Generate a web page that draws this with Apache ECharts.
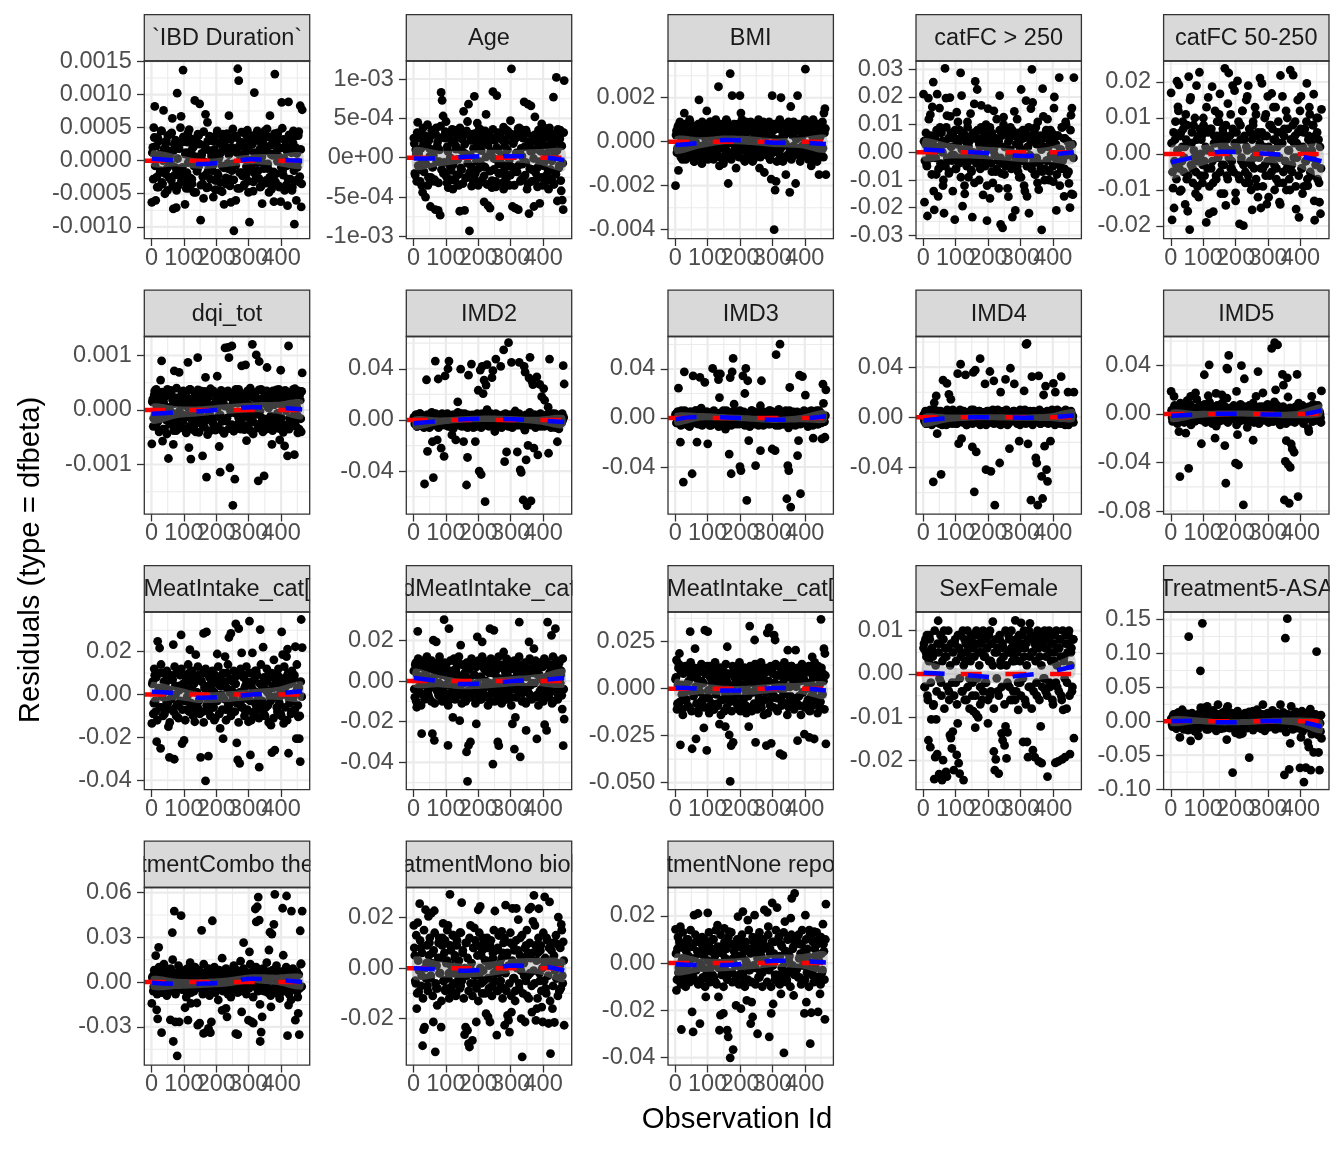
<!DOCTYPE html>
<html><head><meta charset="utf-8">
<script src="https://cdn.jsdelivr.net/npm/echarts@6/dist/echarts.min.js"></script>
<style>html,body{margin:0;padding:0;background:#fff}#c{width:1344px;height:1152px}</style>
</head><body><div id="c"></div>
<script>
// ---------- data ----------
const obsFirst = 1, obsLast = 465;
const fitX = [1, 78, 155, 233, 310, 388, 465];
const xTicks = [0, 100, 200, 300, 400];
const xTickLabels = ['0', '100', '200', '300', '400'];
const panelLabels = ['`IBD Duration`', 'Age', 'BMI', 'catFC > 250', 'catFC 50-250',
  'dqi_tot', 'IMD2', 'IMD3', 'IMD4', 'IMD5',
  'MeatIntake_cat[', 'dMeatIntake_cat', 'MeatIntake_cat[', 'SexFemale', 'Treatment5-ASA',
  'tmentCombo the', 'atmentMono biol', 'tmentNone repo'];

// residual values per panel (in the unit given in panelUnits); "Vals" = spread/outlying points, "Core" = dense band
const ibdVals = [
 -63,20,50,82,-60,-25,35,-40,10,-15,45,-35,76,5,-20,30,-45,15,-5,40,-30,64,-73,25,-10,-71,102,-38,18,-22,67,
 28,137,-32,-66,12,-18,42,-42,3,33,-28,20,-8,91,-48,25,-12,38,86,-90,8,-35,-57,22,70,-20,58,-40,15,-3,35,
 -15,-55,30,-30,10,45,-22,5,-45,25,-8,40,-66,18,-35,32,-12,68,-28,-63,20,-5,-106,38,-60,12,139,121,-42,28,-18,
 22,-38,8,40,-20,15,-48,-93,35,-10,25,-32,103,5,-25,45,-15,30,-40,12,-65,38,-5,20,-30,48,-12,-48,68,10,-35,
 30,-62,131,-20,15,42,-38,5,-62,88,-15,32,-45,22,-8,-68,89,35,-28,12,-40,45,-96,20,-60,-10,38,-32,83,-70,77];
const ibdCore = [
 12,-28,35,-8,22,-40,5,30,-18,45,-33,0,18,-50,26,-12,38,-25,8,-5,42,-38,15,-22,31,-45,3,24,-15,50,-30,
 -10,36,-20,10,-42,28,-3,47,-26,14,-35,20,-48,6,33,-16,40,-8,25,-37,11,-24,44,-2,19,-41,29,-13,37,-28,7,
 30,-6,17,-44,39,-19,2,27,-33,13,-47,34,-11,22,-26,41,-4,9,-38,32,-15,48,-29,16,-7,35,-42,21,-18,4,43,
 -23,10,-36,28,-9,46,-31,1,24,-14,38,-46,12,-20,33,-3,40,-27,18,-39,6,29,-12,45,-34,15,-5,36,-25,23,-43,
 8,-17,41,-32,26,-1,34,-40,19,-10,49,-22,3,31,-37,14,-28,39,-6,21,-45,27,-15,37,-30,11,-2,44,-24,17,-35];
const ageVals = [
 25,-20,10,-30,45,5,-15,30,-35,-44,18,-8,-50,22,42,-25,12,-62,28,-12,3,-30,-66,38,15,-67,-5,-73,83,73,53,
 -18,25,46,-32,8,30,-10,-28,20,-40,35,-3,15,-22,28,-35,-68,10,-15,32,59,-67,5,-25,46,68,-93,22,-12,30,-30,
 78,-20,12,44,-35,25,-5,35,-28,18,-56,-12,55,20,-61,30,-64,8,-38,84,-15,25,-30,79,10,-20,-75,32,-8,22,-40,
 15,-25,35,-10,28,-35,47,113,-62,20,-18,-64,30,5,-66,38,-30,12,-8,25,71,-22,35,-40,68,-71,18,66,-15,10,-62,
 52,-28,20,-12,30,-58,8,43,-35,25,-5,33,-22,15,-40,38,-15,22,-30,77,5,-20,102,-55,28,-10,35,-42,-54,-66,98];
const ageCore = [
 18,-22,5,32,-10,25,-30,12,-3,38,-18,28,-8,15,-35,22,2,-25,35,-12,8,-28,30,-5,20,-32,10,40,-15,26,-20,
 -6,33,-24,14,-38,27,0,-16,36,-9,21,-29,11,30,-2,-21,38,-13,24,-33,6,17,-26,34,-7,29,-19,3,-36,23,12,
 -27,31,-4,19,-14,37,-31,9,25,-11,-23,34,1,-34,16,28,-17,7,-29,36,-1,22,-37,13,32,-8,-20,26,4,-32,39,
 -15,21,-26,10,33,-3,-22,30,-12,18,-35,24,6,-18,37,-9,27,-28,2,35,-24,14,-6,31,-33,20,-14,8,-30,25,-1,
 29,-19,11,-37,35,-5,23,-25,16,-10,38,-31,5,26,-16,33,-27,12,-4,30,-34,19,-21,9,36,-13,24,-29,15,-7,32];
const bmiVals = [
 -20,5,-3,-13,8,-6,2,-8,6,13,-4,7,-2,4,-7,9,-5,1,6,-9,3,-1,7,-6,19,4,-3,-10,8,-5,2,
 6,14,-7,3,-4,9,-2,5,-8,1,7,-5,4,25,-11,8,-3,2,-10,6,-6,10,-1,-19,5,31,-7,21,3,-4,7,
 -12,4,-6,8,21,13,-3,6,-8,2,9,-5,1,-7,5,-2,8,-9,4,-4,7,0,-6,10,-12,3,-5,6,-1,-14,8,
 -5,7,-2,4,-8,-17,21,5,-40,-22,-18,6,-3,9,-6,20,2,-9,7,-1,-15,4,-7,8,-23,16,-4,3,9,-6,-19,
 5,21,-3,8,-7,2,6,-5,9,33,-2,4,-8,7,-4,-11,3,10,-6,1,8,-9,5,-15,2,-5,7,-3,13,15,-15];
const bmiCore = [
 3,-5,7,-2,9,-7,1,5,-4,8,-8,2,6,-1,10,-6,4,-3,7,-9,0,5,-5,8,-2,3,-7,9,-4,6,-1,
 -3,6,-8,2,9,-5,4,-1,7,-6,10,-3,1,8,-7,5,-2,3,-9,6,0,-4,9,-6,2,7,-8,4,-1,8,-5,
 5,-2,8,-7,3,-4,10,-1,6,-9,2,7,-3,5,-6,9,-2,1,-8,4,8,-5,3,-1,7,-7,6,-3,9,-4,2,
 -6,4,-1,9,-8,3,6,-5,8,-2,1,-9,7,-4,10,-3,5,-7,2,8,-1,4,-6,9,-3,6,-8,3,-2,7,-5,
 1,8,-4,5,-9,7,-2,3,-6,10,-1,4,-7,6,-3,9,-5,2,-8,7,-1,5,-4,8,-6,3,-2,9,-7,4,6];
const fcHighVals = [
 21,-18,3,-4,-23,19.6,5,13.6,-2,16.4,25.4,-20.8,6,-8,21,-15.9,2,9,-5,4,-12,-22,30.3,19.6,13.3,-3,-7.6,19.8,7,-1,-14,
 5,-24.3,-6,14.5,3,-2,8,28.7,20.5,-19.4,1,-12,6,-4,11,-9,4,-1,-6.4,-23.4,7,17.5,25.6,-3,22.7,5,-10,2,9,-5,-15.4,
 6,-2,10,-24.7,15.8,3,-16.6,-4,7,-11,1,5,-7,12,-3,4,20.5,-26,-7.6,-27.3,12.7,2,-5,8,-13,4,-1,9,-6,-23.4,6,
 14.8,-21,3,-5,7,-9,1,22.7,-3,5,-12,8,18.7,-15.9,2,-22,6,15.8,30,-4,4,-8,9,-2,11,-13.5,3,-6,-28,23,5,
 -10,6,-3,12,2,-7,8,-1,4,-10.6,20,3,-21,6,-4,27,1,-6,9,-2,-15.9,5,10,-8,4,-11.2,-20,13.4,16,-15.3,27];
const fcHighCore = [
 4,-3,7,-5,2,12,-1,6,-8,3,-14,5,-2,8,1,-6,16,-4,7,0,-10,3,-5,9,-2,5,-7,13,2,-3,6,
 -1,8,-6,3,11,-4,5,-9,1,7,-2,-15,4,-5,9,2,-3,14,-7,6,0,-11,5,-4,8,-1,3,-6,17,-2,4,
 7,-5,2,-12,6,-3,9,1,-7,4,15,-1,5,-6,3,-13,8,-2,6,-4,10,-8,2,7,-3,-16,5,1,-5,8,-1,
 -4,6,-2,12,-7,3,5,-9,1,8,-3,-14,6,-5,2,9,-1,4,-6,18,-2,7,-8,3,-11,5,-4,6,1,-7,13,
 2,-6,8,-3,5,-10,4,-1,7,-5,16,-2,3,-8,6,-4,-12,1,9,-3,5,-6,11,-1,4,-7,2,8,-15,3,-2];
const fcMidVals = [
 17,-18.3,-9.5,-15,4,-3,20.2,13.1,19.2,-10.4,6,-2,9,-5,2,11,-7,-15.9,21.5,-21,15.7,3,-4,8,-1,-11,19,-9,5,22.7,-6,
 4,-8,10,-2,6,-19,1,15.7,-16.6,7,-4,18.7,-8,3,12,-6,5,-1,9,16.7,-11,2,7,-3,23.8,-14.3,4,-7,22.5,1,11,
 -4,19,6,17.6,-10.8,2,20.3,-6,-19.4,8,-2,12,-19.9,4,-5,15,1,19,-8,6,-3,-15.5,9,-1,13,-7,5,-12,2,21.1,-4,
 19.6,-9,5,-3,11,-13.9,16,2,-6,8,16.8,-1,4,-10,13,-4,6,-8,-13.4,21.8,3,16,-5,7,-2,-10,10,1,-7,23.3,4,
 -5,21.9,3,9,-15.3,-1,6,-17.6,12,16,-4,2,-9,7,-2,19.6,-8.8,5,11,-6,1,8,16.6,-18.4,-3,10,-7,4,-13.4,-16.6,12.4];
const fcMidCore = [
 3,-5,6,-2,9,-7,1,12,-4,5,-10,2,7,-1,-14,4,8,-6,3,15,-3,6,-8,1,10,-5,4,-2,-12,7,0,
 5,-3,8,-6,2,13,-4,6,-9,1,7,-2,-16,5,3,-7,9,-1,11,-5,4,-3,6,-11,2,8,-6,14,-1,5,-4,
 -2,7,-5,3,-13,6,1,9,-7,4,-1,12,-3,5,-8,2,16,-6,7,-2,-10,4,8,-4,1,11,-9,6,-1,3,-15,
 6,-4,2,10,-6,5,-2,-12,8,1,-5,7,13,-3,4,-7,2,9,-1,-14,6,3,-8,5,-2,12,-4,7,1,-10,4,
 -3,8,-1,5,-9,3,15,-6,2,7,-4,-11,6,1,-2,9,-7,4,13,-5,3,-1,8,-13,5,-3,6,10,-8,2,-4];
const dqiVals = [
 -62,20,-15,35,-30,8,-22,28,-5,55,90,-57,15,-35,25,-10,38,-89,5,-25,30,-18,-63,72,12,-38,22,-8,69,-28,18,
 32,-20,10,-35,25,-12,87.5,-69,38,-90,-5,20,-30,15,-40,28,96,-15,5,35,-25,-84,12,-32,60,-123,22,-10,30,-38,8,
 -22,35,5,-30,18,62,-12,-67,-114,28,-38,10,32,114,-20,25,115,96,-106,-5,117.5,-175,20,-127,38,-28,12,-15,30,-35,81,
 15,-30,25,83,-56,35,-10,28,-38,8,120.6,-22,32,-5,101,20,-130,89,-25,38,-15,12,-121,30,-35,78,5,-28,22,-12,-63,
 35,-18,10,-32,28,-8,38,-55,73,-25,15,-38,-66,22,5,-84,117.5,-15,30,-30,12,38,-82,-20,25,-10,35,-35,18,-40,68];
const dqiCore = [
 15,-30,28,-8,38,-22,5,-40,20,-12,33,-35,10,25,-18,-44,30,2,-26,36,-5,18,-38,12,-15,40,-28,22,-2,-33,8,
 -20,35,-10,27,-42,14,4,-30,38,-16,21,-36,9,31,-24,-3,37,-41,17,-11,26,-29,6,34,-19,13,-45,24,-7,39,-14,
 32,-25,11,-37,19,3,-32,29,-9,36,-21,16,-43,7,26,-15,35,-34,1,23,-27,12,-39,30,-6,20,-31,38,-13,14,-23,
 -4,28,-36,18,-12,33,-28,9,40,-19,24,-44,6,30,-8,16,-33,37,-2,-25,21,-40,13,27,-17,35,-30,4,19,-11,31,
 -38,10,25,-22,37,-6,15,-34,29,-14,8,-41,22,36,-1,-27,17,-35,11,32,-20,26,-9,39,-29,5,-42,18,28,-16,34];
const imd2Vals = [
 2,-3,4,-5,1,-2,5,-4,3,-1,2,-50,-3,31.4,-24.5,4,-6,1,-2,-17,-45,3,46,-4,-15.6,32,2,-3,-22,5,-1,
 -28.4,34.4,-2,3,40,46,-5,1,-11.7,4,-3,2,-15.6,-1,14.1,3,-4,39.7,5,-2,-16.9,1,-5,-50.8,-29.3,35,3,-2,43.7,4,-6,
 2,-16.9,-3,5,23.2,-40,39,-42.6,41.9,20.6,31.2,-63.8,27.3,43.2,-4,3,-2,5,33,38.5,-5,1,47.6,-3,4,-1,2,41.9,-4,3,54.7,
 -32.6,3,-25,-2,60.4,4,-5,45,1,-3,5,-1,2,-25,-4,45,-39,-41,3,-62.5,41.9,37.3,-31.2,-66.9,-19.8,32.9,48.9,-63.2,30.2,27.6,-22,
 4,-3,33.7,-27.3,2,27.8,-5,18.2,1,24.5,15.4,-2,4,-4,-26,47.6,3,-1,5,-3,2,-6,4,-17,1,-4,3,-2,5,42.4,28.1];
const imd2Core = [
 1,-3,4,-5,2,-1,5,-4,0,3,-6,2,-2,4,-3,1,-5,3,6,-4,0,-2,5,-1,2,-6,3,-3,4,-1,1,
 -4,2,-2,5,-5,0,3,-3,1,-7,4,-1,2,-4,6,-2,0,3,-5,1,-3,5,-1,2,-6,4,-2,0,3,-4,1,
 3,-1,-5,2,4,-3,0,-6,5,-2,1,-4,3,8,-1,-5,2,0,4,-3,1,-9,5,-2,3,-4,0,2,-6,4,-1,
 -2,5,-3,1,-5,3,0,4,-6,2,-1,7,-4,1,-3,5,-2,0,3,-5,2,-8,4,-1,1,-3,6,-4,2,0,-2,
 4,-6,1,-2,3,-4,5,0,-1,2,-5,3,-3,1,10,-2,4,-6,0,2,-4,5,-1,3,-3,-7,1,4,-2,0,2];
const imd3Vals = [
 3,-4,5,24.3,-2,-19.7,6,-5,-52.3,37.7,1,-3,4,-6,2,5,-1,-45.5,34.4,3,-4,6,-19.7,-2,4,33.1,-5,1,3,-3,29.1,
 -4,5,-21.1,2,-6,3,-1,40.4,5,-3,2,-5,36,31.4,16.7,35.9,4,-2,6,-4,1,3,-6,2,-29.4,33,-45.5,37.7,48.6,11.3,-3,
 5,-2,3,-5,-39.6,-42.9,4,34.4,-1,20,40.4,-67.2,30.4,-18.4,2,-4,6,-3,1,5,-38.8,-2,4,-6,3,-26.7,30.4,-1,5,-4,2,
 -3,4,-5,2,6,-2,-25.3,3,-4,-26.7,51.7,1,5,-6,60.2,3,-1,4,-5,2,6,-65.9,-38.8,-42.9,24.9,-72.7,3,-3,5,-2,4,
 -5,-30.7,-18.4,34.9,-61.8,2,33.8,-4,5,18.7,-1,3,-6,4,-3,6,-2,-16.5,5,-4,1,3,-5,6,-2,4,-17,27.6,-3,-15.7,23];
const imd3Core = [
 2,-4,5,-1,3,-6,0,4,-3,6,-5,1,-2,3,-7,5,-1,2,-4,0,6,-3,1,-5,4,-2,8,-6,2,-1,3,
 -3,5,-2,0,4,-6,1,-4,6,-1,2,-5,3,-7,4,0,-2,5,-3,1,-9,6,-1,3,-4,2,-6,5,0,-2,4,
 -5,1,3,-3,6,-1,-4,2,5,-6,0,3,-2,4,-7,1,6,-3,2,-5,4,-1,0,3,-4,10,-2,5,-6,1,-3,
 4,-2,0,6,-5,2,-3,5,-1,1,-6,3,-4,7,-2,0,4,-5,2,-1,5,-3,1,-8,6,-2,3,-4,0,2,-6,
 1,5,-3,2,-5,4,-1,0,6,-4,3,-2,-7,5,1,-3,4,-6,2,0,-1,6,-5,3,-2,4,-4,1,12,-3,2];
const imd4Vals = [
 2,-3,5,-5,1,4,-2,6,-4,3,-51.4,11.6,-1,17,-13,5,-3,2,-45.4,-6,29.6,4,-2,3,27,-5,18.3,1,14.3,-4,6,
 -2,4,-5,3,34.8,-21,1,42.3,-17,5,-3,2,33.8,-6,4,-1,3,-4,6,-23.6,35.9,-59.4,37.6,-27.6,2,-3,5,46.7,-2,4,-5,
 3,26.6,-41.7,2,-4,5,36.5,-43,1,-3,29.1,-70,4,-2,6,-5,-36.4,20.1,3,-1,5,-4,30.2,2,-6,4,-24.9,39.1,-3,1,5,
 26.6,-2,4,-5,3,-19,6,-3,1,4,21,-4,58.2,59,-21.2,2,5,-66,32.4,-3,4,-1,-32.4,-36.4,-70,33.1,3,-5,-47,-64.7,17.8,
 -23,24.9,-41.7,-51,4,-2,-19,5,-3,27.1,1,20.1,-4,6,-2,3,-5,32.4,2,-3,5,-6,4,-1,20.1,-4,3,5,-2,1,20.1];
const imd4Core = [
 -1,3,-5,2,5,-3,0,4,-6,1,-2,6,-4,3,-1,2,-5,5,0,-3,4,-2,1,-6,6,-4,2,-1,3,-5,0,
 4,-2,1,-5,3,-3,6,-1,0,-4,5,-2,2,-6,3,1,-3,4,-1,-5,6,0,-2,3,-4,2,5,-6,1,-1,4,
 -3,2,-6,5,0,-2,3,-4,1,6,-5,2,-1,4,-3,0,5,-6,2,-2,3,-4,1,6,-1,-5,4,0,-3,2,-2,
 5,-1,3,-4,0,2,-6,4,-2,1,-3,6,-5,3,0,-1,4,-4,2,-6,5,-2,1,3,-3,0,6,-5,2,-1,4,
 -4,1,-2,5,-5,3,0,-3,6,-1,2,-6,4,-2,1,5,-4,0,3,-5,2,-1,6,-3,4,-6,1,-2,3,0,-4];
const imd5Vals = [
 18.6,-3,4,14.5,-5,2,-1,6,-14.5,-51.5,3,-4,5,-2,1,-15.8,4,-6,-44.7,3,14.5,-3,5,-1,2,17.3,-5,4,-2,6,-4,
 -24.5,3,-2,32.3,5,-4,1,15,40.5,-5,3,-1,6,-3,-19.9,17,2,-5,4,-2,5,15.8,-4,1,-26,-57,37.8,37,48.2,-3,4,
 -2,5,-4,3,-40.5,18.6,-17,-42,6,-3,39.8,2,-74.9,29,-5,4,-1,3,-6,5,-2,1,-21.6,4,-3,14.5,2,34.9,-4,5,-1,
 3,17.3,-5,2,6,-3,4,-1,5,-4,54,2,-6,58.7,19.9,3,56.9,-2,5,-4,1,32.6,23.7,-70.8,-39,-22,29.8,-42,-73.5,-44,-24.7,
 -28.8,4,-31.5,2,-3,32.6,-68,5,-2,3,-5,6,-1,4,-4,2,5,-14.5,-3,1,14.5,-6,4,-2,3,-5,6,-1,2,-3,19];
const imd5Core = [
 3,-6,1,7,-4,2,-8,5,-1,9,-3,0,6,-7,4,-2,11,-5,1,8,-9,3,-1,5,-6,2,12,-4,0,7,-3,
 -5,4,-2,8,-7,1,6,-3,10,-1,3,-8,5,-4,2,-10,7,0,-6,4,-2,9,-5,1,6,-3,13,-7,2,-1,5,
 1,-4,7,-2,3,-9,5,0,-6,8,-3,2,-1,6,-5,4,-11,1,7,-4,3,-2,9,-7,0,5,-3,2,-8,6,-1,
 -2,6,-5,1,4,-3,8,-7,2,-1,5,-6,3,10,-4,0,7,-2,1,-9,4,-5,6,-1,3,-8,2,14,-3,5,-6,
 4,-1,2,-7,6,-3,0,9,-5,3,-2,7,-8,1,5,-4,2,-12,6,-1,4,-6,8,-2,1,-5,3,7,-3,0,-7];
const meatAVals = [
 -13.5,6,-4,9,-8,-22,24.8,3,21.7,-25.1,-6,10,1,-9,5,-3,8,-15,-29.3,-2,7,-7,23.3,-30.2,4,-10,11,-5,2,9,27.8,
 -22.9,5,-21.4,-3,8,-7,2,10,20.9,-5,4,-9,7,-12.7,18.6,1,-6,9,-2,-29.3,6,-8,28.5,3,-40.3,29.2,-4,-28.7,8,-10,5,
 2,-6,-11.9,9,-3,18.9,5,-9,-15.8,7,-1,-20.6,4,17.7,-7,10,-4,26.6,1,28.5,-8,6,-2,8,33,-22.6,-30.5,30.7,-32.1,-5,19.4,
 -6,9,3,-8,6,-2,-12.7,34.2,-28.2,4,19.4,-9,7,-4,11,1,-7,-33.9,30.3,5,-3,22.1,8,-10,2,6,-5,10,-1,-14.3,-27.1,
 4,16.2,-25.9,7,-6,9,-2,5,-9,29.2,18.6,-13.5,3,8,17.7,21.2,-27.4,-4,10,-8,6,-1,9,22.3,-20.6,3,-10.4,-20.6,-31.3,35,21.9];
const meatACore = [
 5,-9,12,-3,8,-12,1,10,-6,14,-1,-10,6,3,-7,11,-4,2,-13,9,-2,7,-8,13,0,-5,10,-11,4,-3,12,
 -7,3,9,-12,6,-1,14,-8,2,-4,11,-10,5,8,-6,1,13,-3,-9,7,-1,10,-13,4,12,-5,2,-8,9,-2,6,
 11,-6,1,-11,8,-3,13,-9,4,0,-7,10,-2,6,-12,3,14,-5,7,-10,2,-1,11,-8,5,-4,9,-13,1,12,-6,
 -2,8,-10,4,13,-7,0,10,-3,-12,6,2,-8,11,-5,9,-1,-11,5,14,-4,3,-9,7,-6,12,1,-13,8,-3,10,
 3,-11,9,-1,6,-8,12,-4,2,-10,7,0,13,-6,4,-12,10,-2,5,-9,11,-3,8,-7,1,14,-5,3,-10,6,-1];
const meatBVals = [
 5,-8,9,-12.9,24.5,-3,7,-6,-25.9,2,10,-9,4,-2,8,-7,1,6,-10,-25.9,20.1,-29.2,3,19.3,-5,9,-1,7,-8,4,-4,
 30.2,-6,8,2,-31.7,25.8,-9,5,-3,-17.9,10,-1,6,-7,3,9,-19.5,17.7,-5,1,8,-8,4,-34.9,-49.4,-31.7,6,-30,-2,10,-6,
 3,-7,-21.1,21.8,-4,8,-9,2,19.3,-6,10,-2,5,-8,7,-1,25.8,-10,4,-40.9,25,6,-5,9,-30,-31.8,1,-7,8,-3,14.3,
 -5,7,-9,3,10,-4,6,-8,-21.1,1,-33.5,-17.9,9,-2,5,29,-37.3,8,-6,2,-10,7,-24.3,4,-3,19.3,-7,10,-1,5,16,
 -8,6,-28.5,3,9,-5,1,-9,7,-2,-21.5,10,-24.3,29,-6,4,-3,22.5,8,-10,2,25.8,-4,6,-7,9,-1,5,-13.8,-31.8,-18.7];
const meatBCore = [
 -4,8,-10,3,11,-6,1,-12,7,-2,9,-8,4,12,-5,0,-9,6,10,-3,2,-11,8,-1,5,-7,12,-4,3,-10,7,
 9,-2,-8,5,-12,1,10,-6,3,-4,11,-9,6,0,-7,12,-3,2,-11,8,-1,4,-10,9,-5,7,1,-8,11,-2,-6,
 3,-11,7,-1,10,-5,2,-9,12,-4,6,-7,0,9,-12,4,-3,11,-6,8,-1,-10,5,2,-8,12,-3,7,-11,1,6,
 -9,4,11,-2,-7,8,0,-12,6,-4,10,1,-8,3,-5,12,-1,7,-10,5,-3,9,-11,2,6,-6,11,-2,-9,4,8,
 -1,10,-7,5,-12,3,8,-4,1,-10,11,-6,2,9,-3,-8,7,0,-11,12,-5,4,-2,10,-9,6,-1,3,-7,11,-4];
const meatCVals = [
 5,15.2,-8,11,18.7,-29.9,2,-11,8,-4,12,-6,3,9,-10,30.3,6,-32,-2,10,21.3,-26.7,7,-12,1,11,-7,4,-9,-20.9,31.2,
 8,-32.9,30.3,-5,12,-9,3,6,-11,10,-2,7,-8,4,-18.9,11,-6,1,9,-12,-20.2,5,22.3,-4,-24.6,-49.4,-30.3,8,-28.6,2,-7,
 10,-3,6,-11,12,-7,2,9,-5,11,-9,4,-1,-20.2,33.3,7,-12,3,10,25.9,-28.6,5,-8,12,-2,8,-10,1,6,-6,11,
 -30.3,29.7,4,32.4,-9,-29.1,10,-3,28.5,25.9,7,-11,2,12,-34.6,-6,8,-35.5,5,-8,11,1,20.5,-10,6,-4,12,-7,3,9,20.5,
 -5,-27.7,10,-9,4,12,-2,7,-24.2,11,-8,3,-11,-25.9,9,-4,16.9,6,-26.8,10,-6,1,12,-9,5,36.9,-3,8,21.3,18.7,-29.4];
const meatCCore = [
 6,-11,2,13,-7,9,-3,-14,10,0,-6,12,-9,4,-1,14,-12,7,-4,11,1,-8,5,-13,9,-2,13,-6,3,-10,8,
 -5,12,-1,-13,6,10,-8,2,-11,14,-3,7,-9,0,11,-14,5,-6,9,-2,13,-10,3,8,-7,1,-12,12,-4,6,
 10,-3,-9,5,14,-12,1,7,-6,11,-1,-13,8,-4,3,12,-10,6,-2,-8,13,0,-11,9,-5,4,14,-7,2,-14,10,
 -2,9,-13,4,-6,12,-1,8,-10,3,13,-5,-12,7,0,11,-9,2,-3,14,-8,6,-14,10,-4,1,12,-7,5,-11,9,
 1,-8,11,-4,7,-14,13,-2,5,-10,9,0,-6,12,-12,3,8,-9,-1,14,-5,6,-13,10,2,-7,11,-3,4,-11,7];
const sexVals = [
 6,-3,8,4,-5,-15.3,9,-16.9,-10.5,5,-7.3,-24.3,-19.2,-10.5,-18.5,12.3,-23.1,7,-2,-24.5,-19.9,10,4,-22.6,-23.7,6,-4,-14.1,-14.8,-17.2,-13.3,
 -22.2,7,-2,-18.7,-11.4,-20.6,-23,9,5,-4,-24.5,8,3,-6,10,6,-1,4,8,-5,-8.6,7,-12.4,-9.3,9,-10,5,-3,7,-6,10,
 4,-2,8,6,-11.4,9,-5,3,7,12.1,-17.9,-22.2,-19.7,5,-4,-23,8,2,-13.7,-15.3,6,-16.5,-12.1,-19.5,-13.5,9,-3,5,10,-6,7,
 3,12.4,-4,8,-8.3,6,-2,11.8,9,-15.7,4,-6,7,-15.7,-19.2,10,11.7,-3,5,-17.6,8,-19.2,6,-5,9,-20.2,4,-12.1,-20.6,7,-1,
 10,-4,6,-23.7,8,-2,5,9,-6,7,3,-20.5,10,-3,-20.2,6,8,-5,-19.7,-8.3,4,-19.2,9,-2,7,10,-18.5,5,-4,8,-14.8];
const sexCore = [
 7,-3,5,9,-6,3,8,-2,6,4,-7,10,2,-4,7,5,-1,9,-5,3,8,-8,6,4,-3,10,-6,2,7,-2,5,
 -5,8,3,-7,9,6,-1,4,-4,10,2,-6,7,5,-3,8,-8,3,9,-2,6,4,-5,10,-1,7,2,-7,5,8,-4,
 9,4,-2,6,-6,3,10,-4,7,2,-8,5,8,-1,6,-5,9,3,-3,7,4,-7,10,2,-2,5,8,-6,6,3,-4,
 4,-6,8,5,-2,9,3,-5,7,-1,10,6,-7,2,8,-3,4,9,-8,5,-4,7,3,-2,10,6,-6,8,2,-3,9,
 -1,6,4,-5,8,10,-3,3,7,-7,5,9,-2,2,6,-4,8,4,-6,10,3,-1,7,-8,5,9,-5,2,6,-3,8];
const asaVals = [
 3,-5,8,-2,10,-8,1,6,-4,-23.8,9,-1,4,-11.8,7,-6,2,11,124.8,-3,-28.8,5,-3.7,8,-9,3,-2,6,-21.5,1,74.5,
 -4,144.5,7,19.7,-6,2,22.1,-12,9,-3,5,-8,1,10,-5,4,-2,24.6,7,-7,3,-1,9,-10,6,2,-27,22.1,-4,8,-1,
 5,-75.6,3,8,-17,2,-6,10,-19.4,4,-3,7,-8,1,12,-5,6,-2,-53.6,9,-4,3,15,-7,5,-1,8,-9,2,11,-3,
 6,24.6,-4,9,-2,5,-8,3,10,-6,1,7,-3,4,-9,12,-1,6,-5,24.6,8,-7,2,-79,122.6,5,151.3,-2,-70.8,-32.5,22.1,
 -6,9,3,-4,7,-10,1,5,-68.8,-23.8,14.8,-3,-89.7,8,-68.3,-2,-31.4,-38.2,6,-71.9,-18.9,4,-45.9,-7,10,102.8,-12,-46,-71.9,-15,-25.3];
const asaCore = [
 4,-8,10,-2,6,-11,1,13,-5,8,-3,17,-9,2,11,-6,5,-13,9,0,-4,12,-7,3,-15,7,-1,10,-10,5,20,
 -3,9,-6,2,14,-12,7,-1,11,-5,3,-9,16,-2,8,-14,4,10,-7,1,-11,6,13,-4,2,-8,19,-1,5,-10,9,
 12,-5,1,-9,7,-2,15,-12,4,9,-6,-18,3,11,-3,6,-10,2,14,-7,8,-1,-13,5,10,-4,17,-8,1,7,-11,
 -6,10,3,-14,8,-1,12,-9,5,2,-7,16,-3,9,-12,4,11,-5,1,-10,7,-2,13,-8,6,-16,3,10,-4,8,-1,
 5,-12,9,-3,14,-7,2,11,-9,6,-2,-15,8,1,-6,12,-10,4,-1,18,-8,3,10,-13,7,-5,2,-20,6,-3,9];
const comboVals = [
 -14.3,4,-3,6,17.8,-18.6,-24.6,23.3,2,-5,-33.9,7,-2,3,-6,5,1,-4,6,-25.3,-1,33.2,-39.8,47.6,-26.6,4,-49.4,-3,-26.6,7,44.5,
 2,-5,6,-17.2,3,-2,-25.5,5,-6,-14.3,4,1,-4,7,-3,2,-28.8,6,-27.5,-1,34.7,5,-34.4,-5,3,-33.3,7,-31,-2,-33.9,-26.6,
 41.1,4,-6,2,7,-3,5,-1,6,-5,-18.9,3,-4,8,-17.6,-23.3,2,-7,5,1,-3,6,-2,4,-34.6,7,-35.2,-4,3,-6,-20,
 5,26.4,-3,7,-5,2,-25.5,20.3,4,-26.5,6,-27.5,-2,49,40.4,50.5,57,41.6,-39.8,-33.5,-23.3,3,-6,5,1,-4,7,21.5,33.4,-16.6,32.2,
 -5,38.7,58.8,-6.5,4,-2,6,-11,3,-4,49.5,5,-1,7,57.7,-35.9,-15.4,2,-5,47.6,4,-3,6,-25.5,1,-6,-21,-35.2,34.4,12.3,47.6];
const comboCore = [
 3,-6,8,-2,5,-8,1,10,-4,6,-7,2,12,-3,4,-9,7,0,-5,9,-1,15,-6,3,-8,6,-2,11,-4,1,8,
 -5,7,-1,4,-10,9,-3,2,13,-7,5,0,-6,10,-2,-14,3,8,-4,6,-1,-8,12,2,-5,7,-3,9,-9,4,-1,
 6,-3,10,-7,1,4,-12,8,-2,5,16,-6,2,-4,9,-1,-8,7,3,-10,5,-2,11,-5,1,8,-7,4,-3,14,-1,
 -2,9,-6,3,-8,6,1,-4,12,-1,7,-10,4,-3,10,2,-6,8,-15,5,-1,9,-5,3,-2,13,-7,6,1,-9,4,
 8,-4,2,-7,11,-1,5,-9,3,7,-3,18,-6,1,10,-2,4,-8,6,-12,3,9,-5,2,-1,7,-10,5,-4,12,-3];
const monoVals = [
 16.9,5,-6,-16,18,-9.4,25.5,8,-3,-30.7,-24.3,-23.3,23.1,2,-7,20.5,10,-4,21.8,6,-21.3,22.7,-33.1,-8,-14.7,4,12,-2,-23.3,9,17.7,
 -5,11,-8,3,16.9,-2,29.2,7,-9.4,13,-6,4,-11,9,1,-4,14,-7,25.9,6,-3,-26.3,-23.3,10,-24.6,-29.9,-31.2,16.9,-1,-28.6,8,
 15.9,-6,-21.3,9,23.1,-3,24.4,5,-10,12,-5,3,-18,8,-19.3,1,-21.3,11,-7,4,-2,22.6,7,-26.5,-9,13,2,-5,14.5,6,-8,
 -22.6,24.9,5,-18.7,-20.7,-25.3,10,-17.4,23.6,-4,7,-9,23.6,2,19.2,-6,12,-20,-35.1,4,-3,-21.3,9,-11,6,23.3,-2,24.1,-17.4,18.5,28.8,
 16.9,-20.7,-16,6,23.5,-5,9,-15.4,-21.3,3,28.2,-8,12,1,-21.9,26.2,-33.8,7,-16,4,-21.5,10,-4,2,20.2,-9,8,17.3,-3,10.4,-22.6];
const monoCore = [
 8,-5,13,-10,3,-1,11,-7,6,-12,15,0,-4,9,-9,5,12,-3,2,-11,7,14,-6,1,-8,10,-2,4,-13,12,-5,
 6,-9,2,15,-4,-12,9,1,-7,13,-2,5,-10,11,-1,3,-8,14,-5,7,-12,0,10,-3,4,-9,12,-6,2,-11,8,
 -3,11,-8,5,-13,14,0,-6,7,-1,10,-10,3,12,-4,-8,9,2,-11,6,15,-5,1,-9,8,-2,13,-7,4,-12,10,
 12,-2,-9,6,1,-6,14,-11,3,9,-4,-13,11,0,7,-8,5,-1,13,-10,2,8,-5,15,-3,-12,10,4,-7,6,-1,
 -6,9,3,-12,12,-2,7,-9,0,14,-5,4,-10,11,-3,8,-13,2,10,-7,5,-1,13,-4,-11,9,1,-8,15,-6,3];
const noneVals = [
 14.3,-11.5,6,-4,9,15.4,-28.1,2,-6,8,-2,5,-7,10,1,-5,7,-20.6,-29.1,20.3,-3,9,-8,21,4,-25.6,-1,8,-6,3,10,
 -14.3,5,21.3,-7,9,-2,6,-5,10,1,-8,4,16.1,-14.3,-28.4,-22,7,-3,-21.3,14.7,2,-6,-28.4,-31.2,13.3,-40.1,8,-4,-36.6,5,-1,
 -17.9,7,19.7,-5,10,-19.3,3,21.8,-7,8,1,-15.8,18.2,-3,6,-25.6,-16.5,-22.8,9,20.3,-2,5,-29.9,11,-6,2,8,-4,6,22.5,-1,
 7,21.5,15.4,-31.2,4,-21.3,25.5,-17.3,9,-5,2,23.5,-8,11,3,-13,7,-4,-38,17.6,5,-7,10,1,-3,19,27.4,6,-13.7,29.5,-5,
 9,-2,12,-6,4,8,-8,2,-21.3,20.3,-16.5,6,-3,14,-34.1,-21,10,-5,13.3,3,-7,8,-20.6,1,-13,11,-4,16.5,5,-23.8,25];
const noneCore = [
 4,-7,11,-2,8,-9,1,13,-5,6,-10,10,-1,3,-8,14,-4,7,-6,2,12,-3,5,-9,9,0,-7,11,-2,6,-10,
 8,-4,1,13,-8,5,-1,10,-6,3,14,-9,7,-2,0,12,-5,4,-10,9,-3,6,-7,11,1,-4,13,-8,2,8,-1,
 -6,10,3,-9,7,-2,12,-5,5,-10,9,0,-7,14,-3,4,-8,11,-1,6,-9,8,2,-6,13,-4,3,-10,10,-2,7,
 1,-8,12,-3,6,-10,9,-1,4,-7,14,-5,2,11,-9,8,-2,-6,13,0,5,-8,10,-4,3,-10,12,-1,7,-5,9,
 -3,11,-6,2,8,-9,14,-1,5,-7,10,-4,3,-10,12,0,-5,9,-8,6,-2,13,-6,1,11,-9,4,-3,8,-7,10];

// smoother (loess) fit and standard error at fitX, same units as the values
const fits = [
 [3,0,-5,-2,2,1,0], [-1,-1,1,2,2,1,-3], [-1.5,-0.5,0.8,0.5,-0.5,-0.5,-1], [1,0.5,0,-0.5,-1.3,-0.8,0], [-2.3,-0.8,0.6,0.4,0,-0.5,-2],
 [-7,-4,-2,2,5,4,1], [-2.5,-1,0.5,1,0.5,-0.5,-1.5], [-1,1,0.5,-0.5,-1.5,-0.5,1.5], [-2.5,-0.8,0,0,-0.3,0,1.5], [-1.5,-0.5,0.3,0.3,-0.5,-0.5,3],
 [1.3,0.5,-1.5,-1,0,0.5,1.5], [1.5,0,-1.5,-1,0,0.5,1.5], [0.5,0,-1,-0.8,0.3,0.2,-1], [0.3,0,-0.4,-0.8,-0.3,0.5,1.8], [0,1,-1.5,-1,0.5,-0.5,-8],
 [-0.5,-1.2,-1,0,2.2,1.5,0], [0,-0.5,-1,-0.3,1,0.8,-1], [-0.5,-0.8,-0.8,0,1,0.8,0.3]];
const ses = [
 [12,9,7.5,7.5,7.5,9,12], [14,10,8,8,8,10,14], [4,2.5,2,2,2,2.5,4], [4,2.8,2.3,2.3,2.3,2.8,4], [4.5,3,2.5,2.5,2.5,3,4.5],
 [18,11,9,9,9,11,18], [5,3,2.5,2.5,2.5,3,5], [5,3,2.5,2.5,2.5,3,5], [5,3,2.5,2.5,2.5,3,5], [5,3,2.5,2.5,2.5,3,5],
 [4.5,3,2.5,2.5,2.5,3,4.5], [4.5,3,2.5,2.5,2.5,3,4.5], [4.5,3,2.5,2.5,2.5,3,4.5], [2.5,1.6,1.4,1.4,1.4,1.6,2.5], [7,5,4.5,4.5,4.5,6,10],
 [4.5,3.5,3,3,3,3.5,5], [4.5,3.2,2.8,2.8,2.8,3.2,4.5], [4.5,3,2.6,2.6,2.6,3,4.5]];
const panelValues = [ibdVals, ageVals, bmiVals, fcHighVals, fcMidVals, dqiVals, imd2Vals, imd3Vals, imd4Vals, imd5Vals,
  meatAVals, meatBVals, meatCVals, sexVals, asaVals, comboVals, monoVals, noneVals];
const panelCores = [ibdCore, ageCore, bmiCore, fcHighCore, fcMidCore, dqiCore, imd2Core, imd3Core, imd4Core, imd5Core,
  meatACore, meatBCore, meatCCore, sexCore, asaCore, comboCore, monoCore, noneCore];
const panelUnits = [1e-5, 1e-5, 1e-4, 1e-3, 1e-3, 1e-5, 1e-3, 1e-3, 1e-3, 1e-3, 1e-3, 1e-3, 1e-3, 1e-3, 1e-3, 1e-3, 1e-3, 1e-3];
const yLimits = [
 [-0.00118, 0.001507], [-1.029e-3, 1.229e-3], [-0.00441, 0.00367], [-0.0312, 0.0330], [-0.02353, 0.02583],
 [-0.001912, 0.001349], [-0.0736, 0.0652], [-0.0785, 0.0665], [-0.0772, 0.0644], [-0.0825, 0.0638],
 [-0.0444, 0.0385], [-0.0535, 0.0340], [-0.0538, 0.0408], [-0.02672, 0.01432], [-0.1009, 0.1612],
 [-0.0557, 0.0634], [-0.0384, 0.0319], [-0.0432, 0.0320]];
const yTicks = [
 [-0.001,-0.0005,0,0.0005,0.001,0.0015], [-1e-3,-5e-4,0,5e-4,1e-3], [-0.004,-0.002,0,0.002], [-0.03,-0.02,-0.01,0,0.01,0.02,0.03], [-0.02,-0.01,0,0.01,0.02],
 [-0.001,0,0.001], [-0.04,0,0.04], [-0.04,0,0.04], [-0.04,0,0.04], [-0.08,-0.04,0,0.04],
 [-0.04,-0.02,0,0.02], [-0.04,-0.02,0,0.02], [-0.05,-0.025,0,0.025], [-0.02,-0.01,0,0.01], [-0.10,-0.05,0,0.05,0.10,0.15],
 [-0.03,0,0.03,0.06], [-0.02,0,0.02], [-0.04,-0.02,0,0.02]];
const yTickLabels = [
 ['-0.0010','-0.0005','0.0000','0.0005','0.0010','0.0015'], ['-1e-03','-5e-04','0e+00','5e-04','1e-03'], ['-0.004','-0.002','0.000','0.002'],
 ['-0.03','-0.02','-0.01','0.00','0.01','0.02','0.03'], ['-0.02','-0.01','0.00','0.01','0.02'],
 ['-0.001','0.000','0.001'], ['-0.04','0.00','0.04'], ['-0.04','0.00','0.04'], ['-0.04','0.00','0.04'], ['-0.08','-0.04','0.00','0.04'],
 ['-0.04','-0.02','0.00','0.02'], ['-0.04','-0.02','0.00','0.02'], ['-0.050','-0.025','0.000','0.025'], ['-0.02','-0.01','0.00','0.01'],
 ['-0.10','-0.05','0.00','0.05','0.10','0.15'], ['-0.03','0.00','0.03','0.06'], ['-0.02','0.00','0.02'], ['-0.04','-0.02','0.00','0.02']];

// ---------- layout ----------
const colLeft = [144.3, 406.3, 668.0, 916.0, 1163.6];
const stripTop = [14.7, 290.2, 565.7, 841.2];
const PW = 165.4, SH = 46.3, PH = 177.7;
const xLim = [obsFirst - 0.05 * (obsLast - obsFirst), obsLast + 0.05 * (obsLast - obsFirst)];
const FONT = '"Liberation Sans", Arial, Helvetica, sans-serif';
const AX_FS = 23.5, TITLE_FS = 29.3;
// the x labels overlap (as in the original); split them over two label axes so none is auto-hidden
const xLabelsA = xTicks.filter((v, i) => i % 2 === 0);
const xLabelsB = xTicks.filter((v, i) => i % 2 === 1);

function minorOf(ticks, lim) {
  const out = [];
  const step = ticks[1] - ticks[0];
  const ext = [ticks[0] - step].concat(ticks, [ticks[ticks.length - 1] + step]);
  for (let i = 0; i < ext.length - 1; i++) {
    const m = (ext[i] + ext[i + 1]) / 2;
    if (m > lim[0] && m < lim[1]) out.push(m);
  }
  return out;
}
function labelFor(ticks, labels) {
  return v => { for (let i = 0; i < ticks.length; i++) if (Math.abs(ticks[i] - v) < 1e-12) return labels[i]; return ''; };
}

const grids = [], xAxes = [], xAxes2 = [], yAxes = [], series = [], gfx = [];
const xMinor = minorOf(xTicks, xLim);
const span = obsLast - obsFirst;
const xLabelStyle = { color: '#4D4D4D', fontSize: AX_FS, fontFamily: FONT, margin: 7.5,
  showMinLabel: true, showMaxLabel: true, hideOverlap: false, formatter: labelFor(xTicks, xTickLabels) };

panelLabels.forEach((label, k) => {
  const r = Math.floor(k / 5), c = k % 5;
  const left = colLeft[c], top = stripTop[r] + SH;
  const yl = yLimits[k], unit = panelUnits[k], vals = panelValues[k], core = panelCores[k];
  const yMinor = minorOf(yTicks[k], yl);
  grids.push({ left: left, top: top, width: PW, height: PH, show: false, containLabel: false, outerBoundsMode: 'none' });
  xAxes.push({
    type: 'value', gridIndex: k, min: xLim[0], max: xLim[1], position: 'bottom',
    axisLine: { show: false, onZero: false },
    axisTick: { show: true, length: 7.3, lineStyle: { color: '#333333', width: 1.3 }, customValues: xTicks },
    axisLabel: Object.assign({ show: true, customValues: xLabelsA }, xLabelStyle),
    splitLine: { show: false }, minorSplitLine: { show: false }
  });
  xAxes2.push({
    type: 'value', gridIndex: k, min: xLim[0], max: xLim[1], position: 'bottom', offset: 0,
    axisLine: { show: false, onZero: false },
    axisTick: { show: false },
    axisLabel: Object.assign({ show: true, customValues: xLabelsB }, xLabelStyle),
    splitLine: { show: false }, minorSplitLine: { show: false }
  });
  yAxes.push({
    type: 'value', gridIndex: k, min: yl[0], max: yl[1], position: 'left',
    axisLine: { show: false, onZero: false },
    axisTick: { show: true, length: 7.3, lineStyle: { color: '#333333', width: 1.3 }, customValues: yTicks[k] },
    axisLabel: { show: true, customValues: yTicks[k], formatter: labelFor(yTicks[k], yTickLabels[k]), margin: 12.6,
      showMinLabel: true, showMaxLabel: true, hideOverlap: false,
      color: '#4D4D4D', fontSize: AX_FS, fontFamily: FONT },
    splitLine: { show: false }, minorSplitLine: { show: false }
  });
  // grid lines
  series.push({
    type: 'custom', xAxisIndex: k, yAxisIndex: k, z: 1, silent: true, clip: true, data: [[0, 0]],
    renderItem: (params, api) => {
      const ch = [];
      const seg = (a, b, w) => ch.push({ type: 'line', shape: { x1: a[0], y1: a[1], x2: b[0], y2: b[1] }, style: { stroke: '#EBEBEB', lineWidth: w } });
      xMinor.forEach(v => seg(api.coord([v, yl[0]]), api.coord([v, yl[1]]), 1.1));
      yMinor.forEach(v => seg(api.coord([xLim[0], v]), api.coord([xLim[1], v]), 1.1));
      xTicks.forEach(v => seg(api.coord([v, yl[0]]), api.coord([v, yl[1]]), 2.2));
      yTicks[k].forEach(v => seg(api.coord([xLim[0], v]), api.coord([xLim[1], v]), 2.2));
      return { type: 'group', children: ch };
    }
  });
  // points
  const n = vals.length, m = core.length;
  const pts = vals.map((v, i) => [obsFirst + i * span / (n - 1), v * unit])
    .concat(core.map((v, i) => [obsFirst + (i + 0.5) * span / m, v * unit]));
  series.push({
    type: 'scatter', xAxisIndex: k, yAxisIndex: k, z: 2, silent: true, symbolSize: 8.8,
    itemStyle: { color: '#000000', opacity: 1 },
    data: pts
  });
  // smoother ribbon
  series.push({
    type: 'custom', xAxisIndex: k, yAxisIndex: k, z: 3, silent: true, clip: true, data: [[0, 0]],
    renderItem: (params, api) => {
      const up = fitX.map((x, i) => api.coord([x, (fits[k][i] + ses[k][i]) * unit]));
      const lo = fitX.map((x, i) => api.coord([x, (fits[k][i] - ses[k][i]) * unit])).reverse();
      return { type: 'polygon', shape: { points: up.concat(lo), smooth: 0.25 }, style: { fill: 'rgba(153,153,153,0.4)' } };
    }
  });
  // zero reference line
  series.push({
    type: 'line', xAxisIndex: k, yAxisIndex: k, z: 4, silent: true, symbol: 'none',
    data: [[xLim[0], 0], [xLim[1], 0]],
    lineStyle: { color: '#FF0000', width: 4.5, type: [21, 23.7] }
  });
  // smoother line
  series.push({
    type: 'line', xAxisIndex: k, yAxisIndex: k, z: 5, silent: true, symbol: 'none', smooth: 0.4,
    data: fitX.map((x, i) => [x, fits[k][i] * unit]),
    lineStyle: { color: '#0000FF', width: 4.5, type: [21, 23.7] }
  });
  // panel border
  gfx.push({ type: 'rect', z: 30, silent: true, shape: { x: left, y: top, width: PW, height: PH },
    style: { fill: 'none', stroke: '#333333', lineWidth: 1.3 } });
  // strip
  gfx.push({ type: 'rect', z: 20, silent: true, shape: { x: left, y: stripTop[r], width: PW, height: SH },
    style: { fill: '#D9D9D9', stroke: null } });
  gfx.push({ type: 'text', z: 21, silent: true,
    style: { text: label, x: left + PW / 2, y: stripTop[r] + SH / 2 + 1, align: 'center', verticalAlign: 'middle',
      fill: '#1A1A1A', fontSize: AX_FS, fontFamily: FONT } });
  // narrow white covers that clip strip text overflow at the strip edges
  gfx.push({ type: 'rect', z: 22, silent: true, shape: { x: left - 12, y: stripTop[r] + 3, width: 11.3, height: SH - 6 }, style: { fill: '#FFFFFF' } });
  gfx.push({ type: 'rect', z: 22, silent: true, shape: { x: left + PW + 0.7, y: stripTop[r] + 3, width: 11.3, height: SH - 6 }, style: { fill: '#FFFFFF' } });
  gfx.push({ type: 'rect', z: 23, silent: true, shape: { x: left, y: stripTop[r], width: PW, height: SH },
    style: { fill: 'none', stroke: '#333333', lineWidth: 1.3 } });
});

// axis titles
gfx.push({ type: 'text', z: 40, silent: true, x: 31, y: 560, rotation: Math.PI / 2,
  style: { text: 'Residuals (type = dfbeta)', x: 0, y: 0, align: 'center', verticalAlign: 'middle', fill: '#000000', fontSize: TITLE_FS, fontFamily: FONT } });
gfx.push({ type: 'text', z: 40, silent: true,
  style: { text: 'Observation Id', x: 737, y: 1120, align: 'center', verticalAlign: 'middle', fill: '#000000', fontSize: TITLE_FS, fontFamily: FONT } });

const chart = echarts.init(document.getElementById('c'), null, { renderer: 'canvas', width: 1344, height: 1152 });
chart.setOption({
  animation: false,
  backgroundColor: '#FFFFFF',
  grid: grids, xAxis: xAxes.concat(xAxes2), yAxis: yAxes, series: series,
  graphic: { elements: gfx }
});
</script>
</body></html>
